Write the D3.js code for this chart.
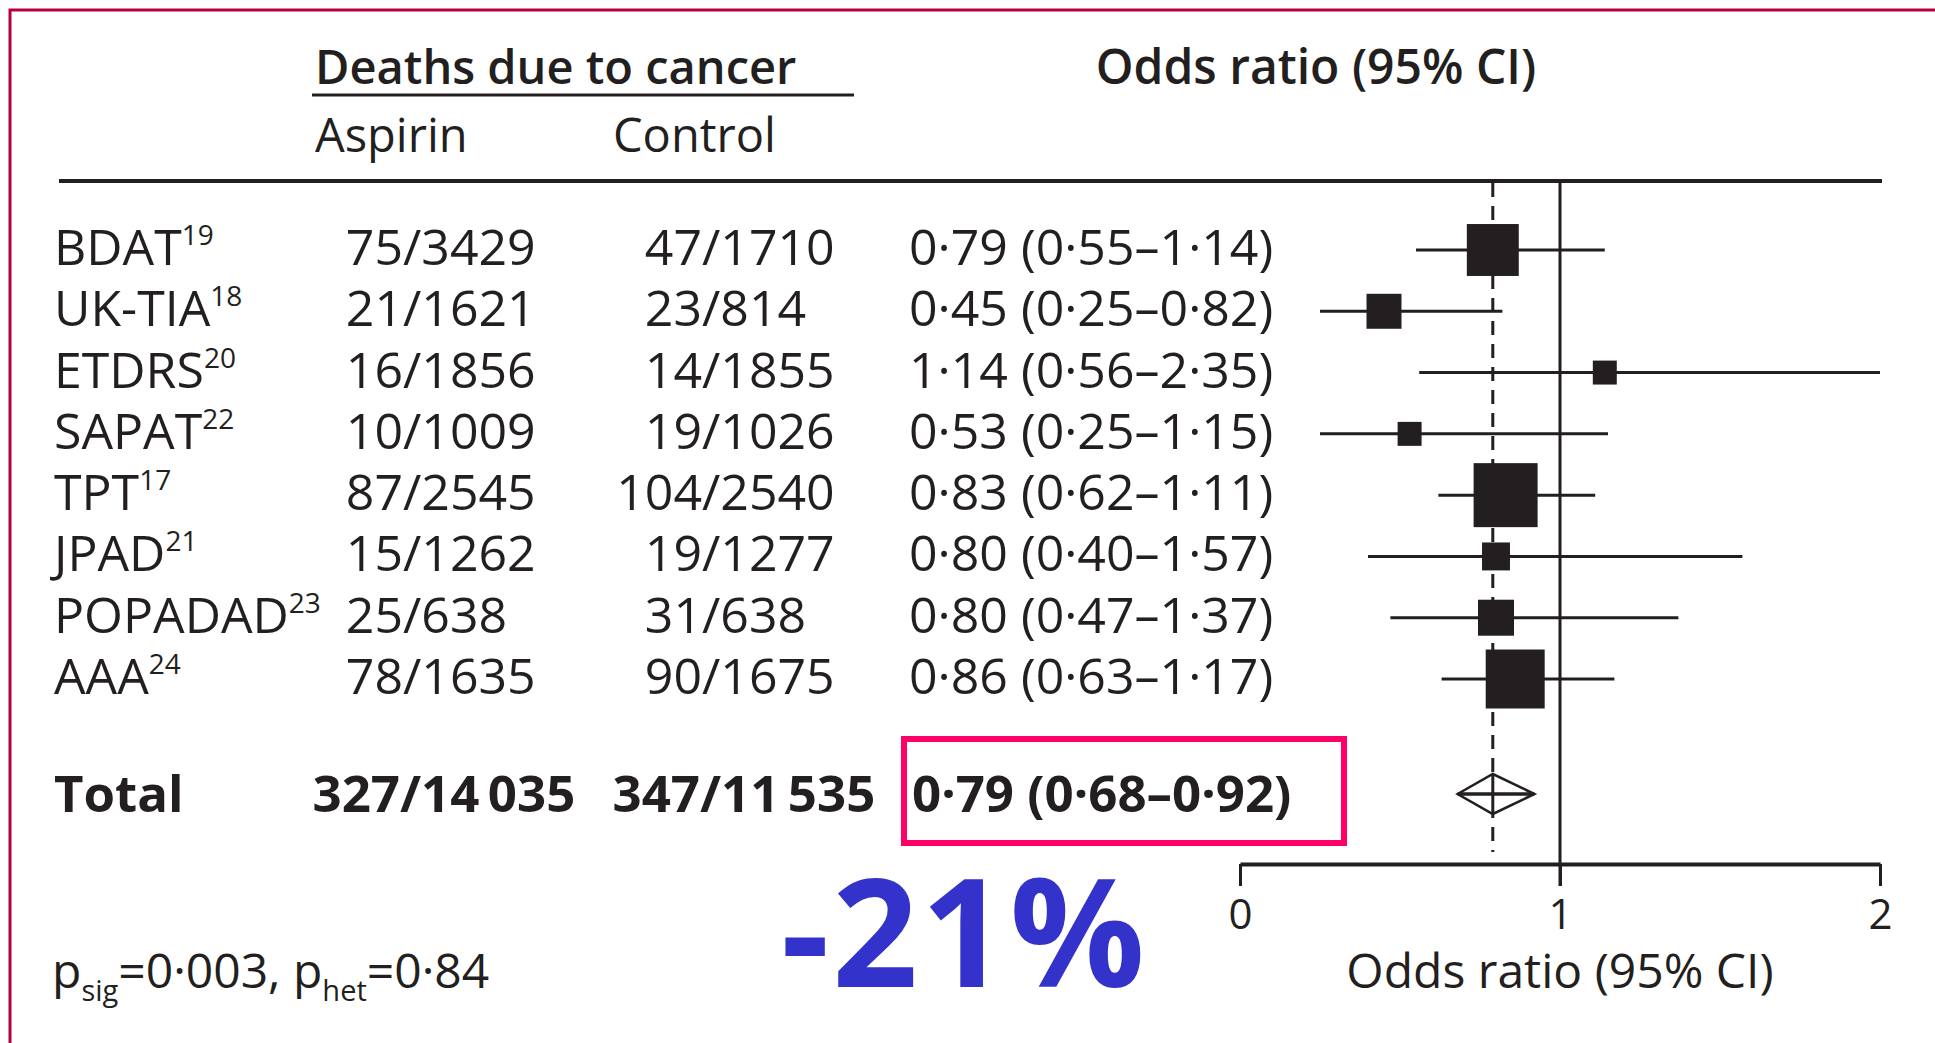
<!DOCTYPE html>
<html>
<head>
<meta charset="utf-8">
<script src="https://cdn.jsdelivr.net/npm/d3@7"></script>
<style>
  body { margin: 0; background: #fff; }
  text { font-family: "Open Sans", "Noto Sans", sans-serif; fill: #231f20; }
</style>
</head>
<body>
<svg id="chart" width="1935" height="1043"></svg>
<script>
/* Data */
var studies = ["BDAT", "UK-TIA", "ETDRS", "SAPAT", "TPT", "JPAD", "POPADAD", "AAA"];
var refs = ["19", "18", "20", "22", "17", "21", "23", "24"];
var aspirinDeaths = [75, 21, 16, 10, 87, 15, 25, 78];
var aspirinTotal = [3429, 1621, 1856, 1009, 2545, 1262, 638, 1635];
var controlDeaths = [47, 23, 14, 19, 104, 19, 31, 90];
var controlTotal = [1710, 814, 1855, 1026, 2540, 1277, 638, 1675];
var oddsRatio = [0.79, 0.45, 1.14, 0.53, 0.83, 0.80, 0.80, 0.86];
var ciLow = [0.55, 0.25, 0.56, 0.25, 0.62, 0.40, 0.47, 0.63];
var ciHigh = [1.14, 0.82, 2.35, 1.15, 1.11, 1.57, 1.37, 1.17];
var weights = [18.3, 8.3, 3.9, 3.9, 27.8, 5.3, 8.8, 23.6];

var total = { aspirin: [327, 14035], control: [347, 11535], or: 0.79, lo: 0.68, hi: 0.92 };
var xTicks = [0, 1, 2];
var pText = { sig: "0·003", het: "0·84" };
var effectLabel = "-21%";

/* Helpers */
var f2 = function (v) { return d3.format(".2f")(v).replace(".", "·"); };
var fn = function (v) { return v >= 10000 ? d3.format(",")(v).replace(",", "\u2009") : String(v); };

/* Scales */
var x = d3.scaleLinear().domain([0, 2]).range([1240, 1880]);
var y = d3.scalePoint().domain(studies).range([250, 679]);
var size = d3.scaleSqrt().domain([0, d3.max(weights)]).range([0, 64]);
var totalY = 794;

var svg = d3.select("svg#chart");

// frame
svg.append("path")
  .attr("d", "M10,1043 V10 H1935")
  .attr("fill", "none")
  .attr("stroke", "#b5003c")
  .attr("stroke-width", 3);

// headers
svg.append("text").attr("x", 315).attr("y", 84)
  .attr("font-size", 47).attr("font-weight", 600).text("Deaths due to cancer");
svg.append("line").attr("x1", 312).attr("x2", 854).attr("y1", 95).attr("y2", 95)
  .attr("stroke", "#231f20").attr("stroke-width", 3);
svg.append("text").attr("x", 1316).attr("y", 84).attr("text-anchor", "middle")
  .attr("font-size", 48).attr("font-weight", 600).text("Odds ratio (95% CI)");
svg.append("text").attr("x", 315).attr("y", 152).attr("font-size", 47).text("Aspirin");
svg.append("text").attr("x", 613).attr("y", 152).attr("font-size", 47).text("Control");

svg.append("line").attr("x1", 59).attr("x2", 1882).attr("y1", 181).attr("y2", 181)
  .attr("stroke", "#231f20").attr("stroke-width", 4);

// rows
var rows = svg.selectAll("g.row")
  .data(studies)
  .enter()
  .append("g")
  .attr("class", "row")
  .attr("transform", function (d) { return "translate(0," + (y(d) + 15) + ")"; })
  .attr("font-size", 50);

var studyLabel = rows.append("text").attr("x", 54);
studyLabel.append("tspan").text(function (d) { return d; });
studyLabel.append("tspan").attr("font-size", 28).attr("dy", -20)
  .text(function (d, i) { return refs[i]; });

rows.append("text").attr("x", 403).attr("text-anchor", "end")
  .text(function (d, i) { return aspirinDeaths[i]; });
rows.append("text").attr("x", 403)
  .text(function (d, i) { return "/" + fn(aspirinTotal[i]); });
rows.append("text").attr("x", 702).attr("text-anchor", "end")
  .text(function (d, i) { return controlDeaths[i]; });
rows.append("text").attr("x", 702)
  .text(function (d, i) { return "/" + fn(controlTotal[i]); });
rows.append("text").attr("x", 909)
  .text(function (d, i) { return f2(oddsRatio[i]) + " (" + f2(ciLow[i]) + "–" + f2(ciHigh[i]) + ")"; });

// total row
var tot = svg.append("g").attr("transform", "translate(0," + (totalY + 18) + ")")
  .attr("font-size", 51).attr("font-weight", 700);
tot.append("text").attr("x", 54).text("Total");
tot.append("text").attr("x", 400).attr("text-anchor", "end").text(total.aspirin[0]);
tot.append("text").attr("x", 400).text("/" + fn(total.aspirin[1]));
tot.append("text").attr("x", 700).attr("text-anchor", "end").text(total.control[0]);
tot.append("text").attr("x", 700).text("/" + fn(total.control[1]));
tot.append("text").attr("x", 912).text(f2(total.or) + " (" + f2(total.lo) + "–" + f2(total.hi) + ")");

svg.append("rect").attr("x", 904).attr("y", 739).attr("width", 440).attr("height", 104)
  .attr("fill", "none").attr("stroke", "#ff0066").attr("stroke-width", 6);

// reference lines
svg.append("line").attr("x1", x(1)).attr("x2", x(1)).attr("y1", 181).attr("y2", 886)
  .attr("stroke", "#231f20").attr("stroke-width", 3);
svg.append("line").attr("x1", x(total.or)).attr("x2", x(total.or)).attr("y1", 183).attr("y2", 852)
  .attr("stroke", "#231f20").attr("stroke-width", 3).attr("stroke-dasharray", "14,9");

// CIs and squares
var marks = svg.selectAll("g.mark")
  .data(studies)
  .enter()
  .append("g")
  .attr("class", "mark");

marks.append("line")
  .attr("x1", function (d, i) { return x(Math.max(ciLow[i], 0)); })
  .attr("x2", function (d, i) { return x(Math.min(ciHigh[i], 2)); })
  .attr("y1", function (d) { return y(d); })
  .attr("y2", function (d) { return y(d); })
  .attr("stroke", "#231f20").attr("stroke-width", 3);

marks.append("rect")
  .attr("x", function (d, i) { return x(oddsRatio[i]) - size(weights[i]) / 2; })
  .attr("y", function (d, i) { return y(d) - size(weights[i]) / 2; })
  .attr("width", function (d, i) { return size(weights[i]); })
  .attr("height", function (d, i) { return size(weights[i]); })
  .attr("fill", "#231f20");

// diamond
svg.append("path")
  .attr("d", "M" + x(total.lo) + "," + totalY + " L" + x(total.or) + "," + (totalY - 20) +
    " L" + x(total.hi) + "," + totalY + " L" + x(total.or) + "," + (totalY + 20) + "Z")
  .attr("fill", "#fff").attr("stroke", "#231f20").attr("stroke-width", 2.5);
svg.append("line").attr("x1", x(total.lo)).attr("x2", x(total.hi))
  .attr("y1", totalY).attr("y2", totalY).attr("stroke", "#231f20").attr("stroke-width", 3.5);
svg.append("line").attr("x1", x(total.or)).attr("x2", x(total.or))
  .attr("y1", totalY - 20).attr("y2", totalY + 20).attr("stroke", "#231f20").attr("stroke-width", 3);

// x axis
var axis = svg.append("g").attr("transform", "translate(0,864)")
  .call(d3.axisBottom(x).tickValues(xTicks).tickSize(22).tickSizeOuter(0).tickFormat(d3.format("d")));
axis.select(".domain").attr("stroke", "#231f20").attr("stroke-width", 4);
axis.selectAll(".tick line").attr("stroke", "#231f20").attr("stroke-width", 3);
axis.selectAll(".tick text").attr("font-size", 42).attr("font-family", null)
  .attr("fill", "#231f20").attr("y", 65).attr("dy", 0);

svg.append("text").attr("x", x(1)).attr("y", 988).attr("text-anchor", "middle")
  .attr("font-size", 48).text("Odds ratio (95% CI)");

// p values
var p = svg.append("text").attr("x", 52).attr("y", 988).attr("font-size", 48);
p.append("tspan").text("p");
p.append("tspan").attr("font-size", 29).attr("dy", 13).text("sig");
p.append("tspan").attr("dy", -13).text("=" + pText.sig + ", p");
p.append("tspan").attr("font-size", 29).attr("dy", 13).text("het");
p.append("tspan").attr("dy", -13).text("=" + pText.het);

// big effect label
svg.append("text").attr("x", 781).attr("y", 987)
  .attr("font-family", "'Liberation Sans', Arial, sans-serif")
  .attr("font-size", 150).attr("font-weight", 700)
  .attr("letter-spacing", 3)
  .style("fill", "#3333cc").text(effectLabel);
</script>
</body>
</html>
